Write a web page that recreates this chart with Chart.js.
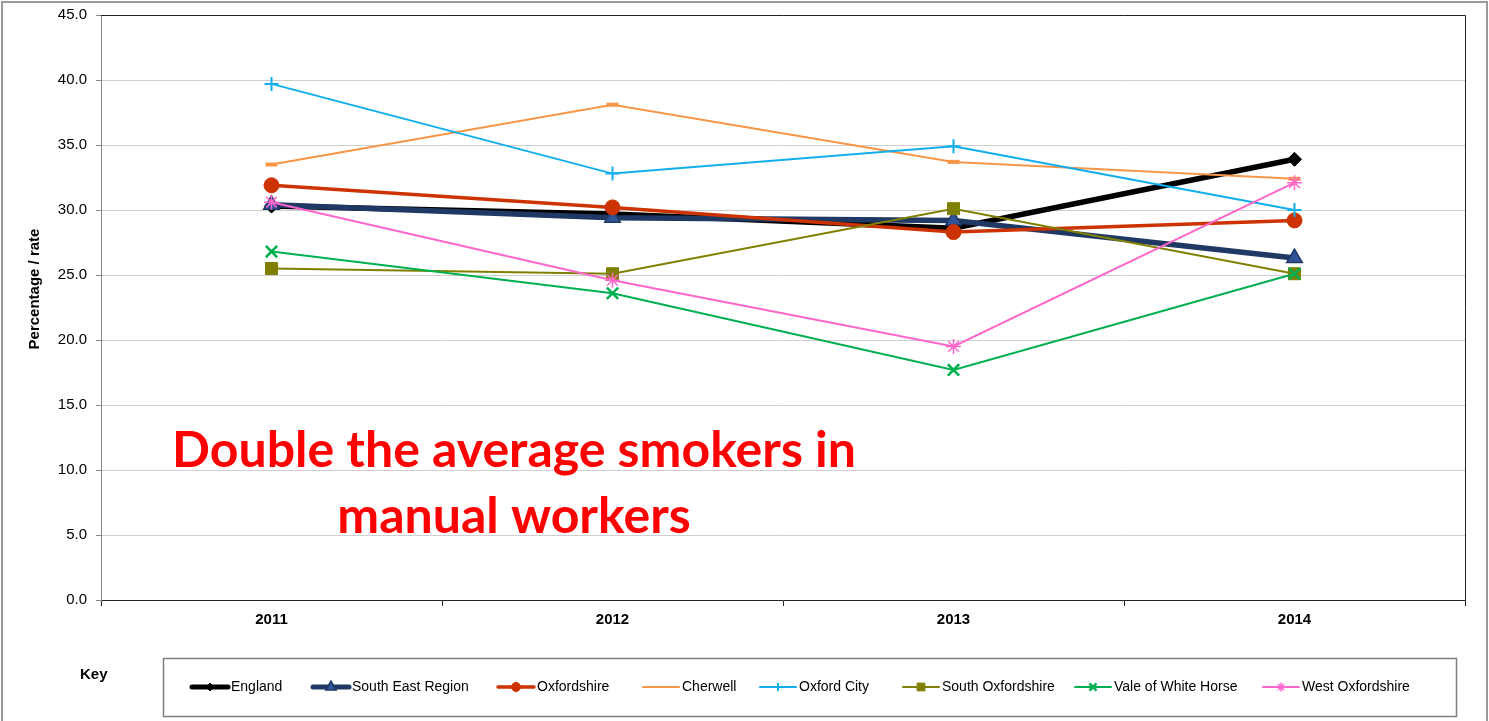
<!DOCTYPE html>
<html>
<head>
<meta charset="utf-8">
<script src="https://cdn.jsdelivr.net/npm/chart.js@4"></script>
<style>
  body { margin: 0; background: #fff; }
  canvas { display: block; }
</style>
</head>
<body>
<canvas id="smokersChart" width="1489" height="721"></canvas>
<script>
// Values
const years = ['2011', '2012', '2013', '2014'];
const england = [30.3, 29.7, 28.6, 33.9];
const southEast = [30.4, 29.4, 29.2, 26.3];
const oxfordshire = [31.9, 30.2, 28.3, 29.2];
const cherwell = [33.5, 38.1, 33.7, 32.4];
const oxfordCity = [39.7, 32.8, 34.9, 30.0];
const southOxfordshire = [25.5, 25.1, 30.1, 25.1];
const valeOfWhiteHorse = [26.8, 23.6, 17.7, 25.1];
const westOxfordshire = [30.6, 24.6, 19.5, 32.1];
const yMin = 0, yMax = 45, yStep = 5;

const FONT = "'Liberation Sans', Arial, sans-serif";

const series = [
    { label: 'England', data: england, color: '#000000', fill: '#000000', width: 5.5, style: 'rectRot', radius: 7, pw: 1 },
    { label: 'South East Region', data: southEast, color: '#1F3864', fill: '#2F5597', width: 5.5, style: 'triangle', radius: 9, pw: 1.5 },
    { label: 'Oxfordshire', data: oxfordshire, color: '#CC3300', fill: '#CC3300', width: 3.5, style: 'circle', radius: 7.5, pw: 1 },
    { label: 'Cherwell', data: cherwell, color: '#F79646', fill: '#F79646', width: 2, style: 'line', radius: 6, pw: 4 },
    { label: 'Oxford City', data: oxfordCity, color: '#11AEEE', fill: '#11AEEE', width: 2, style: 'cross', radius: 7, pw: 2 },
    { label: 'South Oxfordshire', data: southOxfordshire, color: '#808000', fill: '#808000', width: 2, style: 'rect', radius: 8.5, pw: 1 },
    { label: 'Vale of White Horse', data: valeOfWhiteHorse, color: '#00B050', fill: '#00B050', width: 2, style: 'crossRot', radius: 8, pw: 2.5 },
    { label: 'West Oxfordshire', data: westOxfordshire, color: '#FF66CC', fill: '#FF66CC', width: 2, style: 'star', radius: 7.5, pw: 1.5 }
];

// Frame, titles, overlay text and key box drawn on the canvas
const extrasPlugin = {
    id: 'extras',
    afterDraw(chart) {
        const ctx = chart.ctx;
        const area = chart.chartArea;
        ctx.save();

        // outer frame
        ctx.strokeStyle = '#9a9a9a';
        ctx.lineWidth = 2;
        ctx.strokeRect(2, 2, 1485, 740);

        // top and right edge of the plot area
        ctx.strokeStyle = '#222';
        ctx.lineWidth = 1;
        ctx.beginPath();
        ctx.moveTo(area.left, area.top + 0.5);
        ctx.lineTo(area.right + 0.5, area.top + 0.5);
        ctx.lineTo(area.right + 0.5, area.bottom);
        ctx.stroke();

        // y axis title
        ctx.fillStyle = '#000';
        ctx.font = 'bold 15px ' + FONT;
        ctx.textAlign = 'center';
        ctx.textBaseline = 'middle';
        ctx.save();
        ctx.translate(35, 289);
        ctx.rotate(-Math.PI / 2);
        ctx.fillText('Percentage / rate', 0, 0);
        ctx.restore();

        // overlay message
        ctx.fillStyle = '#FF0000';
        ctx.font = "bold 50px Lato, 'Open Sans', sans-serif";
        ctx.textBaseline = 'alphabetic';
        ctx.fillText('Double the average smokers in', 514, 467);
        ctx.fillText('manual workers', 514, 533);

        // key
        ctx.fillStyle = '#000';
        ctx.font = 'bold 15px ' + FONT;
        ctx.textAlign = 'left';
        ctx.textBaseline = 'middle';
        ctx.fillText('Key', 80, 675);

        ctx.strokeStyle = '#7f7f7f';
        ctx.lineWidth = 1.5;
        ctx.strokeRect(163.5, 658.5, 1293, 58);

        const itemX = [192, 313, 498, 643, 760, 903, 1075, 1263];
        const ky = 687;
        ctx.font = '14px ' + FONT;
        series.forEach((s, i) => {
            const x0 = itemX[i];
            ctx.strokeStyle = s.color;
            ctx.lineWidth = Math.min(s.width, 5);
            ctx.lineCap = 'round';
            ctx.beginPath();
            ctx.moveTo(x0, ky);
            ctx.lineTo(x0 + 36, ky);
            ctx.stroke();
            ctx.lineCap = 'butt';
            ctx.fillStyle = s.fill;
            ctx.strokeStyle = s.color;
            if (s.style !== 'line') {
                ctx.lineWidth = s.pw;
                Chart.helpers.drawPoint(ctx, { pointStyle: s.style, radius: Math.max(4, s.radius - 3), rotation: 0, borderWidth: s.pw }, x0 + 18, ky);
            }
            ctx.fillStyle = '#000';
            ctx.fillText(s.label, x0 + 39, ky);
        });

        ctx.restore();
    }
};

const ctx = document.getElementById('smokersChart').getContext('2d');
new Chart(ctx, {
    type: 'line',
    data: {
        labels: years,
        datasets: series.map((s, i) => ({
            label: s.label,
            data: s.data,
            borderColor: s.color,
            borderWidth: s.width,
            backgroundColor: s.fill,
            pointStyle: s.style,
            pointRadius: s.radius,
            pointBorderWidth: s.pw,
            pointBorderColor: s.color,
            pointBackgroundColor: s.fill,
            tension: 0,
            order: series.length - i
        }))
    },
    options: {
        responsive: false,
        animation: false,
        layout: { padding: { top: 14, right: 24, bottom: 81, left: 0 } },
        plugins: {
            legend: { display: false },
            tooltip: { enabled: false }
        },
        scales: {
            x: {
                offset: true,
                grid: {
                    offset: true,
                    drawOnChartArea: false,
                    drawTicks: true,
                    tickLength: 6,
                    tickColor: '#222'
                },
                border: { color: '#222', width: 1 },
                ticks: {
                    color: '#000',
                    padding: 5,
                    font: { family: FONT, size: 15, weight: 'bold' }
                },
                afterFit(scale) { scale.height = 40; }
            },
            y: {
                min: yMin,
                max: yMax,
                grid: {
                    color: '#cfcfcf',
                    tickColor: '#888',
                    tickLength: 5
                },
                border: { color: '#888', width: 1 },
                ticks: {
                    stepSize: yStep,
                    color: '#000',
                    padding: 9,
                    font: { family: FONT, size: 15, lineHeight: 0.8 },
                    callback: v => v.toFixed(1)
                },
                afterFit(scale) { scale.width = 101; }
            }
        }
    },
    plugins: [extrasPlugin]
});
</script>
</body>
</html>
